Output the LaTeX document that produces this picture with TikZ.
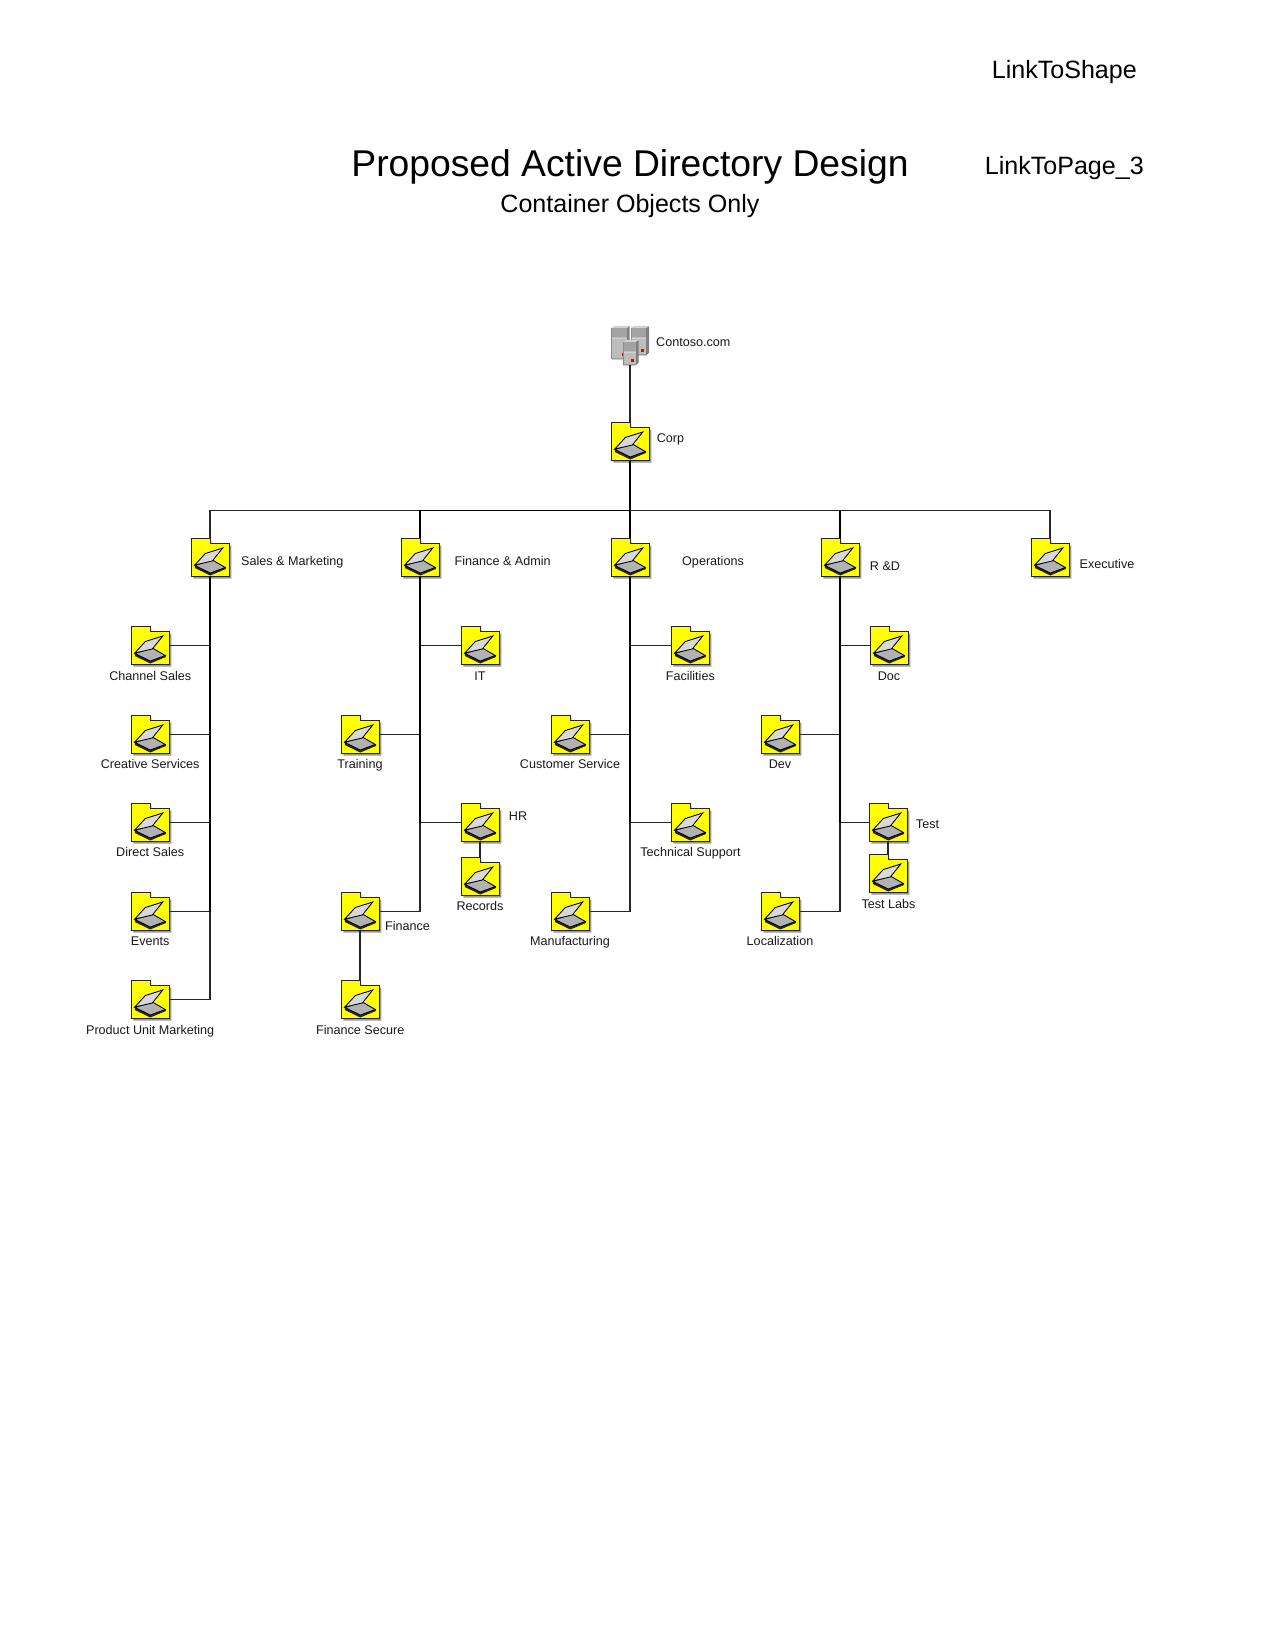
\documentclass[tikz,border=0pt]{standalone}
\usepackage{fontspec}
\setmainfont{Liberation Sans}
\definecolor{folderyellow}{RGB}{255,255,0}
\tikzset{
  conn/.style={draw=black!85,line width=0.85pt},
  trunk/.style={draw=black,line width=1.25pt},
  lbl/.style={inner sep=0pt,font=\fontsize{9.45pt}{11pt}\selectfont,text height=7pt,text depth=2pt,text=black!90},
  bigtxt/.style={inner sep=0pt,font=\fontsize{18.8pt}{22pt}\selectfont},
  box/.style={inner sep=0pt,minimum width=28.5pt,minimum height=28.5pt},
  foldericon/.pic={
    \fill[black!40] (2,2) -- (20,2) -- (20,7) -- (40,7) -- (40,40) -- (2,40) -- cycle;
    \draw[fill=folderyellow,draw=black!85,line width=0.7pt,line join=miter] (0,0) -- (19,0) -- (19,5) -- (38,5) -- (38,38) -- (0,38) -- cycle;
    \fill[black!85] (3.5,27) -- (19,34.5) -- (34.5,28.5) -- (34.5,30.5) -- (19,37) -- (3.5,29.5) -- cycle;
    \draw[fill=black!30,draw=black,line width=0.65pt] (3.5,27) -- (21,21.5) -- (34,29) -- (19,34.5) -- cycle;
    \draw[fill=black!15,draw=black,line width=0.65pt] (3.5,26.5) -- (14,15) -- (31.5,9.5) -- (21,22.5) -- cycle;
  }
}
\newcommand{\folder}[3]{%
  \node[box] (#1) at (#2,#3+19.5) {};
  \pic at (#2-18.7,#3+0.5) {foldericon};
}
\newcommand{\tower}[5]{% x y w h
  \fill[black!50] (#1+#3,#2) -- (#1+#3+3,#2-2) -- (#1+#3+3,#2+#4-3) -- (#1+#3,#2+#4) -- cycle;
  \fill[black!18] (#1,#2) -- (#1+3,#2-2) -- (#1+#3+3,#2-2) -- (#1+#3,#2) -- cycle;
  \fill[black!26] (#1,#2) rectangle (#1+#3,#2+#4);
  \fill[black!36] (#1,#2) rectangle (#1+#3,#2+9);
  \draw[black!18,line width=0.5pt] (#1,#2+10) -- (#1+#3,#2+10);
  \draw[black!60,line width=0.5pt] (#1,#2+#4) -- (#1+#3,#2+#4) -- (#1+#3+3,#2+#4-3);
  \draw[black!45,line width=0.3pt] (#1,#2) -- (#1,#2+#4);
  \fill[red!90!black] (#1+#3-5,#2+#4-6) rectangle ++(3,2.5);
}
\begin{document}
\begin{tikzpicture}[x=0.75pt,y=-0.75pt]
\useasboundingbox (0,0) rectangle (1275,1651);
% texts
\node[inner sep=0pt,font=\fontsize{27.95pt}{32pt}\selectfont] (title) at (630,166.5) {Proposed Active Directory Design};
\node[bigtxt] (subtitle) at (630,206) {Container Objects Only};
\node[bigtxt] (linkshape) at (1064.3,72.5) {LinkToShape};
\node[bigtxt] (linkpage) at (1064.3,168) {LinkToPage\_3};
% folders
\node[box] (server) at (630,345.5) {};
\folder{corp}{630}{422}
\folder{sm}{210}{538}
\folder{fa}{420}{538}
\folder{ops}{630}{538}
\folder{rd}{840}{538}
\folder{exec}{1050}{538}
\folder{chan}{150}{626}
\folder{crea}{150}{715}
\folder{dire}{150}{803}
\folder{even}{150}{892}
\folder{prod}{150}{980}
\folder{it}{480}{626}
\folder{train}{360}{715}
\folder{hr}{480}{803}
\folder{rec}{480}{857}
\folder{fin}{360}{892}
\folder{finsec}{360}{980}
\folder{fac}{690}{626}
\folder{cust}{570}{715}
\folder{tech}{690}{803}
\folder{manu}{570}{892}
\folder{doc}{889}{626}
\folder{dev}{780}{715}
\folder{test}{888}{803}
\folder{labs}{888}{854}
\folder{loc}{780}{892}
% server icon
\tower{631}{328}{15}{27}{}
\tower{611.5}{328}{15}{31}{}
\tower{623}{342}{12.5}{23}{}
% connectors
\coordinate (bus) at (630,510.5);
\draw[conn] (server.south) -- (corp.north);
\draw[trunk] (corp.south) -- (bus);
\draw[conn] (bus) -| (sm.north);
\draw[trunk] (bus) -| (fa.north);
\draw[trunk] (bus) -- (ops.north);
\draw[trunk] (bus) -| (rd.north);
\draw[conn] (bus) -| (exec.north);
\foreach \c in {chan,crea,dire,even,prod} \draw[conn] (sm.south) |- (\c.east);
\foreach \c in {it,hr} \draw[conn] (fa.south) |- (\c.west);
\foreach \c in {train,fin} \draw[conn] (fa.south) |- (\c.east);
\draw[conn] (hr.south) -- (rec.north);
\draw[conn] (fin.south) -- (finsec.north);
\foreach \c in {fac,tech} \draw[conn] (ops.south) |- (\c.west);
\foreach \c in {cust,manu} \draw[conn] (ops.south) |- (\c.east);
\foreach \c in {doc,test} \draw[conn] (rd.south) |- (\c.west);
\foreach \c in {dev,loc} \draw[conn] (rd.south) |- (\c.east);
\draw[conn] (test.south) -- (labs.north);
% heavier shared runs of the trunks
\draw[trunk] (sm.south) -- (sm.south |- even.east);
\draw[trunk] (fa.south) -- (fa.south |- hr.west);
\draw[trunk] (ops.south) -- (ops.south |- tech.west);
\draw[trunk] (rd.south) -- (rd.south |- test.west);
% labels
\node[lbl] (l1) at (693.3,343) {Contoso.com};
\node[lbl] (l2) at (670.5,439) {Corp};
\node[lbl] (l3) at (292.3,562) {Sales \& Marketing};
\node[lbl] (l4) at (502.7,562) {Finance \& Admin};
\node[lbl] (l5) at (713,562) {Operations};
\node[lbl] (l6) at (885,567) {R \&D};
\node[lbl] (l7) at (1107,565) {Executive};
\node[lbl] (l8) at (150.3,677) {Channel Sales};
\node[lbl] (l9) at (150.2,765) {Creative Services};
\node[lbl] (l10) at (150.2,853.5) {Direct Sales};
\node[lbl] (l11) at (150.2,942) {Events};
\node[lbl] (l12) at (150.2,1031) {Product Unit Marketing};
\node[lbl] (l13) at (480,677) {IT};
\node[lbl] (l14) at (360,765) {Training};
\node[lbl] (l15) at (518,817) {HR};
\node[lbl] (l16) at (480,907.5) {Records};
\node[lbl] (l17) at (407.5,927.5) {Finance};
\node[lbl] (l18) at (360.2,1031) {Finance Secure};
\node[lbl] (l19) at (690.3,677) {Facilities};
\node[lbl] (l20) at (570,765) {Customer Service};
\node[lbl] (l21) at (690.5,853.5) {Technical Support};
\node[lbl] (l22) at (570,942) {Manufacturing};
\node[lbl] (l23) at (889,677) {Doc};
\node[lbl] (l24) at (780,765) {Dev};
\node[lbl] (l25) at (927.5,825) {Test};
\node[lbl] (l26) at (888.5,905.5) {Test Labs};
\node[lbl] (l27) at (780,942) {Localization};
\end{tikzpicture}
\end{document}
